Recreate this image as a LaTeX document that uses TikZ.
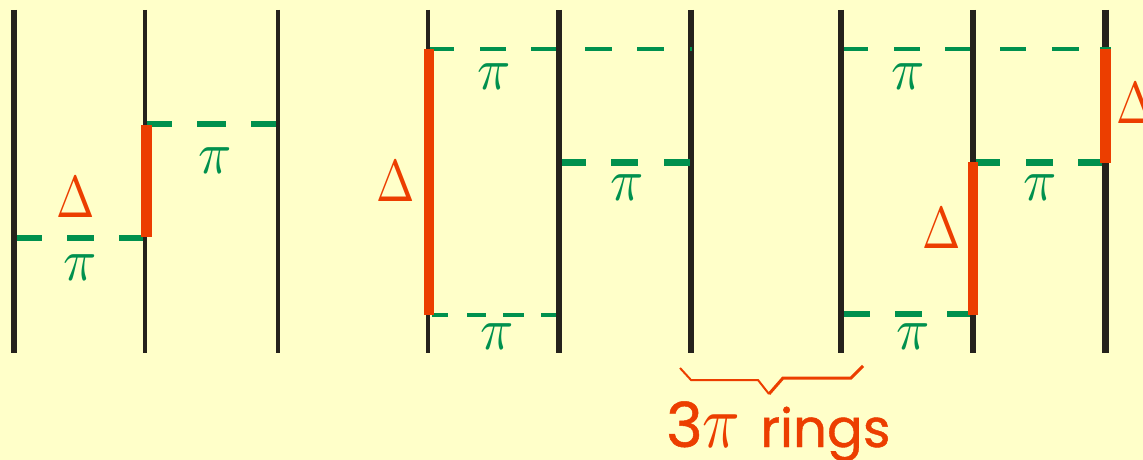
\documentclass[tikz,border=0pt]{standalone}
\usepackage{fontspec}
\setmainfont{Liberation Serif}
\newfontfamily\ringfont[FakeBold=0.8]{Poppins}
\definecolor{bgc}{HTML}{FFFFC9}
\definecolor{linec}{HTML}{25221C}
\definecolor{pionc}{HTML}{00914E}
\definecolor{deltac}{HTML}{EC3E00}
\tikzset{
  nucleon/.style={draw=linec,line width=#1},
  delta/.style={fill=deltac,draw=none},
  pionlab/.style={text=pionc,inner sep=0pt},
  deltalab/.style={text=deltac,inner sep=0pt},
}
\newcommand{\pionline}[3]{\foreach \a/\b in {#3}{\draw[draw=pionc,line width=#2] (\a,#1) -- (\b,#1);}}
\newcommand{\pilabel}[3]{\node[pionlab] (#1) at (#2,#3) {\scalebox{5.5}[6]{$\pi$}};}
\newcommand{\deltalabel}[3]{\node[deltalab] (#1) at (#2,#3) {\scalebox{4.6}[5.9]{$\Delta$}};}
\begin{document}
\begin{tikzpicture}[x=1pt,y=-1pt]
\useasboundingbox (0,0) rectangle (1143,460);
\fill[bgc] (0,0) rectangle (1143,460);
\foreach \x/\w in {14/6pt,145/4pt,278/4pt,428/4pt,559/6pt,691/6pt,841/6pt,973/6pt,1105/7pt}{
  \draw[nucleon=\w] (\x,10) -- (\x,353);
}
% pion dashes
\pionline{124}{6pt}{147/172,197/226,251/276}
\pionline{238}{6pt}{17/42,67/94,119/143}
\pionline{49}{4pt}{430/454,480/506,531/556,585/612,637/664,690/692}
\pionline{162.5}{7pt}{562/586,611/638,664/690}
\pionline{315}{4pt}{432/448,467/486,503/524,541/556}
\pionline{49}{4pt}{844/868,894/920,945/970,1000/1026,1052/1079,1100/1111}
\pionline{162.5}{7pt}{976/1000,1026/1053,1078/1102}
\pionline{314}{6pt}{844/870,895/922,947/970}
% delta segments
\fill[delta] (141,125) rectangle (152,237);
\fill[delta] (424,49) rectangle (434,315);
\fill[delta] (968,162) rectangle (978,315);
\fill[delta] (1100,49) rectangle (1111,163);
% labels
\pilabel{p1}{215}{161}
\pilabel{p2}{80}{268}
\pilabel{p3}{494}{77}
\pilabel{p4}{627}{188}
\pilabel{p5}{497}{337}
\pilabel{p6}{908}{77}
\pilabel{p7}{1040}{188}
\pilabel{p8}{913}{337}
\deltalabel{d1}{76}{197}
\deltalabel{d2}{396}{181}
\deltalabel{d3}{942}{228}
\deltalabel{d4}{1136}{103}
% brace
\draw[deltac,line width=2pt] (680,368) -- (691,380) -- (758,380) -- (769,394);
\draw[deltac,line width=3pt] (769,394) -- (783,378) -- (851,378) -- (863,366);
\node[text=deltac,inner sep=0pt,anchor=base west] (t) at (666,447)
  {\ringfont{\fontsize{62}{62}\selectfont 3}\hspace{0pt}{\normalsize\scalebox{6.2}[7.6]{$\pi$}}\hspace{20pt}{\fontsize{53}{53}\selectfont rings}};
\end{tikzpicture}
\end{document}
